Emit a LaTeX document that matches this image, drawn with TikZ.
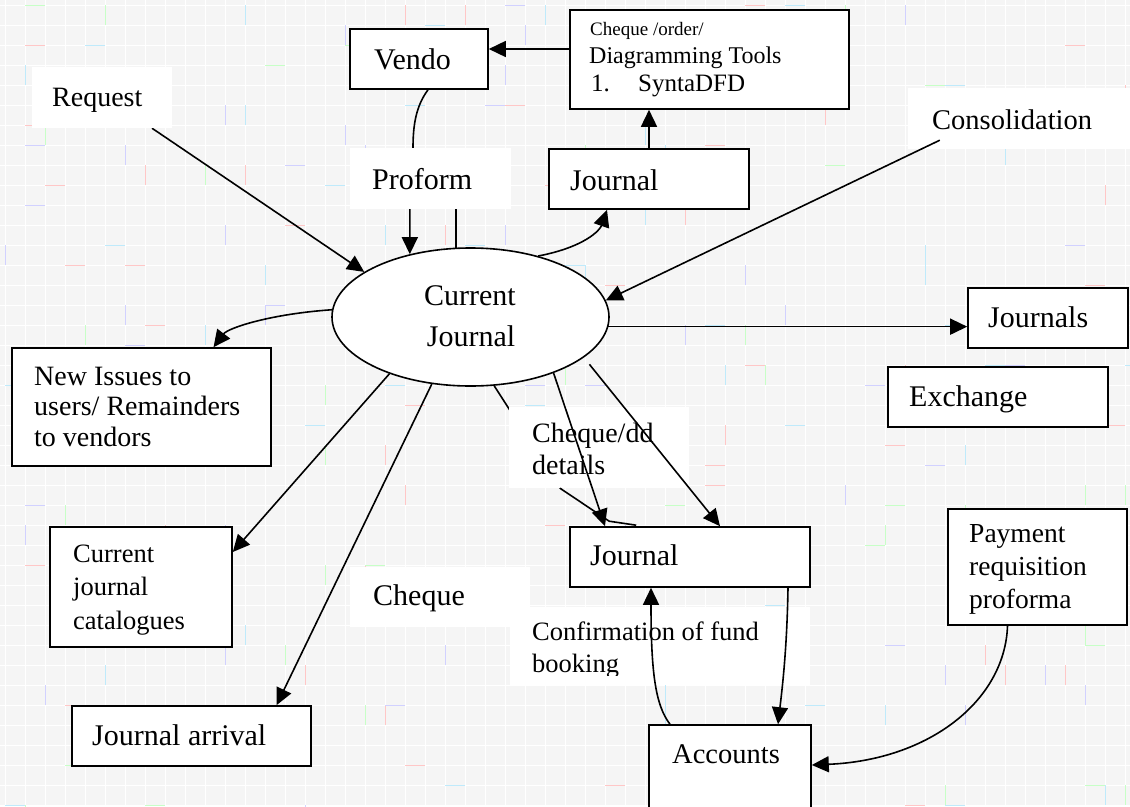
\documentclass[tikz,border=0pt]{standalone}
\usepackage{fontspec}
\setmainfont{Liberation Serif}
\usetikzlibrary{shapes.geometric,arrows.meta,calc}
\definecolor{bgc}{HTML}{F5F5F5}
\newcommand\fsz[1]{\fontsize{#1}{#1}\selectfont}
\newcommand\tx[5]{\node[txt, font=\fsz{#4}] (#1) at (#2,#3) {#5};}
\begin{document}
\begin{tikzpicture}[x=1pt,y=-1pt,
  box/.style={draw=black, line width=1.6pt, fill=white, rectangle, inner sep=0pt},
  lbl/.style={fill=white, rectangle, inner sep=0pt},
  txt/.style={inner sep=0pt, anchor=base west, text=black},
  conn/.style={draw=black, line width=1.6pt},
  arr/.style={conn, -{Triangle[length=17pt,width=16pt]}}]
\useasboundingbox (0,0) rectangle (1130,806);
% background paper
\fill[bgc] (0,0) rectangle (1130,806);
\foreach \g in {5,25,...,1125} \draw[white, line width=0.8pt] (\g,0) -- (\g,806);
\foreach \g in {5,25,...,805} \draw[white, line width=0.8pt] (0,\g) -- (1130,\g);
\pgfmathsetseed{12}
\foreach \i in {1,...,260}{
  \pgfmathrandominteger{\rx}{0}{56}
  \pgfmathrandominteger{\ry}{0}{40}
  \pgfmathrandominteger{\rc}{0}{3}
  \pgfmathrandominteger{\ro}{0}{1}
  \ifcase\rc \def\cc{red!22}\or \def\cc{cyan!25}\or \def\cc{green!22}\or \def\cc{blue!18}\fi
  \ifnum\ro=0
    \draw[\cc, line width=0.8pt] (\rx*20+5,\ry*20+5) -- ++(20,0);
  \else
    \draw[\cc, line width=0.8pt] (\rx*20+5,\ry*20+5) -- ++(0,20);
  \fi
}
% boxes and process
\node[box, minimum width=138pt, minimum height=60pt] (vendo) at (419,59) {};
\node[box, minimum width=279pt, minimum height=99pt] (cheqbox) at (709.5,59.5) {};
\node[box, minimum width=200pt, minimum height=60pt] (jtop) at (649,179) {};
\node[box, minimum width=160pt, minimum height=60pt] (journals) at (1048,318) {};
\node[box, minimum width=220pt, minimum height=60pt] (exchange) at (998,397) {};
\node[box, minimum width=259pt, minimum height=118pt] (newiss) at (141.5,407) {};
\node[box, minimum width=182pt, minimum height=120pt] (catal) at (141,587) {};
\node[box, minimum width=239pt, minimum height=60pt] (jarr) at (191.5,736) {};
\node[box, minimum width=240pt, minimum height=60pt] (jmid) at (690,557) {};
\node[box, minimum width=179pt, minimum height=116pt] (payment) at (1037.5,567) {};
\node[box, minimum width=162pt, minimum height=105pt] (accounts) at (730,777.5) {};
\node[draw=black, line width=1.6pt, fill=white, ellipse, minimum width=277pt, minimum height=138pt, inner sep=0pt] (cj) at (470.5,317) {};
% label boxes (positions only, used by connectors below)
\path (102,97.5) node[lbl, minimum width=140pt, minimum height=61pt] (request) {};
\path (430.5,178.5) node[lbl, minimum width=161pt, minimum height=61pt] (proform) {};
\path (1021.5,118.5) node[lbl, minimum width=227pt, minimum height=61pt] (consol) {};
\path (599,447.5) node[lbl, minimum width=180pt, minimum height=81pt] (chqdd) {};
\path (440,597) node[lbl, minimum width=180pt, minimum height=60pt] (cheque) {};
\path (660,646) node[lbl, minimum width=300pt, minimum height=78pt] (confirm) {};
% connectors that pass behind labels
\draw[arr] ([xshift=9pt]vendo.south) .. controls (416,106) and (413,125) .. (413,148) -- (cj.134 |- proform.south) -- (cj.134);
\draw[conn] (cj.102) -- (cj.102 |- proform.south);
\draw[conn] (cj.289) -- ([xshift=-39pt]chqdd.south);
\draw[arr] ([xshift=50pt]request.south) -- (cj.157);
% labels drawn over
\node[lbl, minimum width=140pt, minimum height=61pt] (requestL) at (request) {};
\node[lbl, minimum width=161pt, minimum height=61pt] (proformL) at (proform) {};
\node[lbl, minimum width=227pt, minimum height=61pt] (consolL) at (consol) {};
\node[lbl, minimum width=180pt, minimum height=81pt] (chqddL) at (chqdd) {};
\node[lbl, minimum width=180pt, minimum height=60pt] (chequeL) at (cheque) {};
\node[lbl, minimum width=300pt, minimum height=78pt] (confirmL) at (confirm) {};
% texts
\tx{tVendo}{374}{69}{30}{Vendo}
\tx{tProform}{372}{189}{30}{Proform}
\tx{tJtop}{570}{190}{30}{Journal}
\tx{tCh1}{590}{35}{19}{Cheque /order/}
\tx{tCh2}{589}{63}{24}{Diagramming Tools}
\tx{tCh3}{591}{91}{25}{1.}
\tx{tCh4}{638}{91}{25}{SyntaDFD}
\tx{tRequest}{52}{106}{28}{Request}
\tx{tConsol}{932}{129}{28.5}{Consolidation}
\node[inner sep=0pt, anchor=base, font=\fsz{30}] (tCJ1) at (470,305) {Current};
\node[inner sep=0pt, anchor=base, font=\fsz{30}] (tCJ2) at (471,346) {Journal};
\tx{tJournals}{988}{327}{30}{Journals}
\tx{tExchange}{909}{406}{30}{Exchange}
\tx{tNew1}{34}{385}{28}{New Issues to}
\tx{tNew2}{34}{415}{28}{users/ Remainders}
\tx{tNew3}{34}{446}{28}{to vendors}
\tx{tDD1}{532}{442}{28}{Cheque/dd}
\tx{tDD2}{532}{474}{28}{details}
\tx{tJmid}{590}{565}{30}{Journal}
\tx{tCat1}{73}{562}{26.5}{Current}
\tx{tCat2}{73}{595}{26.5}{journal}
\tx{tCat3}{73}{629}{26.5}{catalogues}
\tx{tCheque}{373}{605}{30}{Cheque}
\tx{tConf1}{532}{640}{26.5}{Confirmation of fund}
\begin{scope}
\clip (500,600) rectangle (820,675);
\tx{tConf2}{532}{672}{26.5}{booking}
\end{scope}
\tx{tJarr}{92}{745}{30}{Journal arrival}
\tx{tPay1}{969}{542}{27.5}{Payment}
\tx{tPay2}{969}{575}{27.5}{requisition}
\tx{tPay3}{969}{608}{27.5}{proforma}
\tx{tAcc}{672}{763}{28.5}{Accounts}
% visible connectors
\draw[arr] ([yshift=10.5pt]cheqbox.west) -- ([yshift=10pt]vendo.east);
\draw[arr] (jtop.north) -- (jtop.north |- cheqbox.south);
\draw[arr] (cj.42) .. controls (585,247) and (600,230) .. ([xshift=-42pt]jtop.south);
\draw[arr] ([shift={(32pt,9pt)}]consol.south west) -- (cj.7);
\draw[arr] (cj.356) -- (cj.356 -| journals.west);
\draw[arr] (cj.177) .. controls (270,314) and (228,328) .. ([xshift=72pt]newiss.north);
\draw[arr] (cj.215) -- ([yshift=35pt]catal.east);
\draw[arr] (cj.240) -- ([xshift=85pt]jarr.north);
\draw[conn] ([xshift=-39pt]chqdd.south) -- ([shift={(40pt,5pt)}]jmid.north west) -- ([shift={(67pt,1pt)}]jmid.north west);
\draw[arr] (cj.326) -- ([xshift=-85pt]jmid.north);
\draw[arr] ([yshift=-11pt]cj.343) -- ([xshift=30pt]jmid.north);
\draw[arr] ([xshift=98pt]jmid.south) .. controls (787,650) and (782,690) .. ([xshift=48pt]accounts.north);
\draw[arr] ([xshift=-60pt]accounts.north) .. controls (655,705) and (651,670) .. ([xshift=-39pt]jmid.south);
\draw[arr] ([xshift=-30pt]payment.south) .. controls (1005,700) and (930,760) .. ([yshift=12.5pt]accounts.east);
\end{tikzpicture}
\end{document}
